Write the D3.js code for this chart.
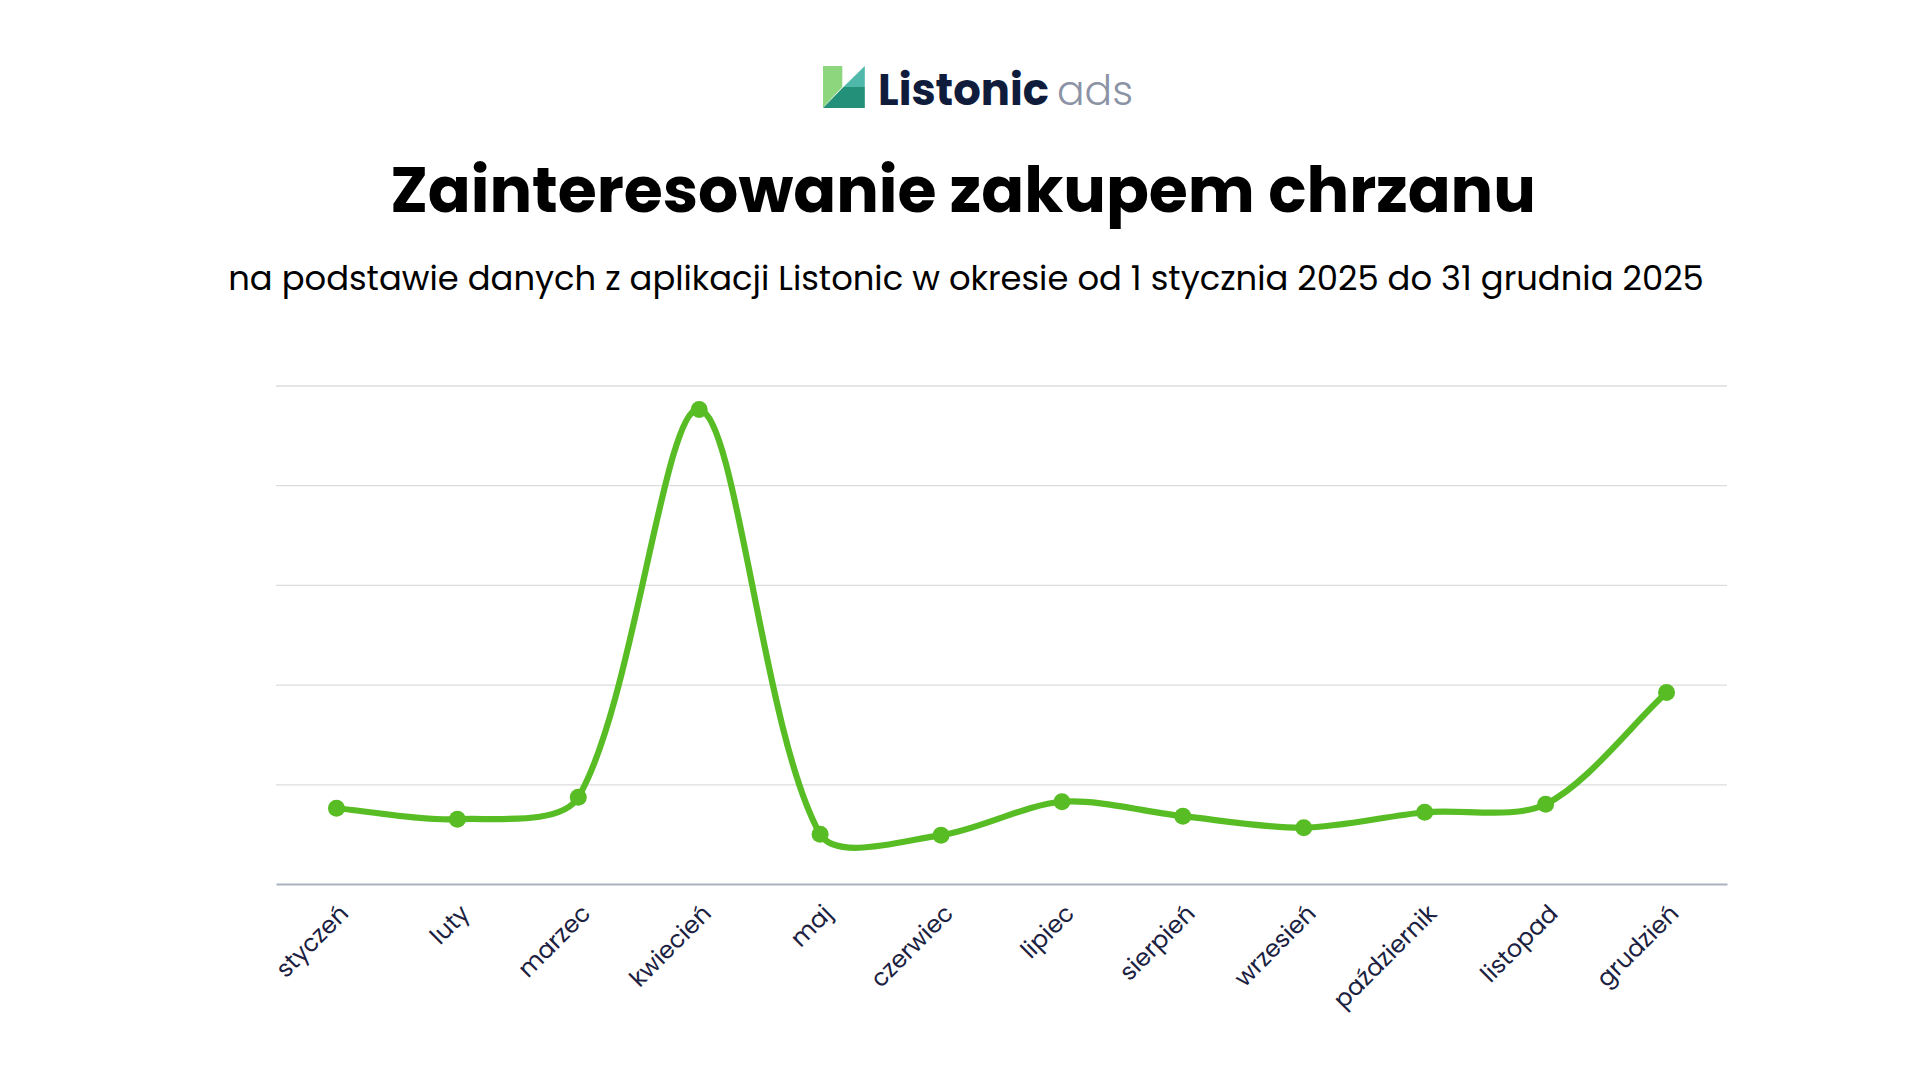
<!DOCTYPE html>
<html lang="pl">
<head>
<meta charset="utf-8">
<script src="https://cdn.jsdelivr.net/npm/d3@7/dist/d3.min.js"></script>
<style>
  html, body { margin: 0; padding: 0; background: #fff; }
  svg { display: block; }
  text { font-family: Poppins, Inter, "Noto Sans", sans-serif; }
</style>
</head>
<body>
<div id="chart"></div>
<script>
// data (index, top gridline = 100)
const months = ["styczeń", "luty", "marzec", "kwiecień", "maj", "czerwiec",
  "lipiec", "sierpień", "wrzesień", "październik", "listopad", "grudzień"];
const interest = [15.2, 13.0, 17.4, 95.2, 10.0, 9.8, 16.5, 13.6, 11.3, 14.4, 16.0, 38.4];
const gridTicks = [0, 20, 40, 60, 80, 100];

const title = "Zainteresowanie zakupem chrzanu";
const subtitle = "na podstawie danych z aplikacji Listonic w okresie od 1 stycznia 2025 do 31 grudnia 2025";

const W = 1920, H = 1080;
const plot = { left: 276, right: 1727, top: 385.5, bottom: 884 };
const green = "#58bd24";

const svg = d3.select("#chart").append("svg")
  .attr("width", W)
  .attr("height", H);

// shrink/grow font so text spans the width seen in the reference
function fitWidth(sel, target) {
  const size = parseFloat(sel.attr("font-size"));
  const w = sel.node().getComputedTextLength();
  sel.attr("font-size", (size * target / w).toFixed(2));
}

// --- logo
const logo = svg.append("g").attr("transform", "translate(823, 66)");
logo.append("polygon").attr("points", "0,0 19.3,0 19.3,21 0,41.6").attr("fill", "#8dd67e");
logo.append("polygon").attr("points", "20.4,21 41.8,0 41.8,21").attr("fill", "#4fb8ab");
logo.append("polygon").attr("points", "0,42 20.4,21 41.8,21 41.8,42").attr("fill", "#23907a");

const logoText = svg.append("text")
  .attr("x", 878).attr("y", 105)
  .attr("font-size", 43)
  .attr("font-weight", 700)
  .attr("fill", "#101c3b")
  .text("Listonic");
fitWidth(logoText, 171);

const adsText = svg.append("text")
  .attr("x", 1057).attr("y", 105)
  .attr("font-size", 43)
  .attr("font-weight", 300)
  .attr("fill", "#8b93a5")
  .text("ads");
fitWidth(adsText, 76);

// --- titles
const titleText = svg.append("text")
  .attr("x", 963).attr("y", 212)
  .attr("text-anchor", "middle")
  .attr("font-size", 66)
  .attr("font-weight", 700)
  .attr("fill", "#000")
  .text(title);
fitWidth(titleText, 1146);

const subText = svg.append("text")
  .attr("x", 966).attr("y", 290)
  .attr("text-anchor", "middle")
  .attr("font-size", 28)
  .attr("fill", "#000")
  .text(subtitle);
fitWidth(subText, 1476);

// --- scales
const x = d3.scalePoint()
  .domain(months)
  .range([plot.left, plot.right])
  .padding(0.5);

const y = d3.scaleLinear()
  .domain([0, 100])
  .range([plot.bottom, plot.top]);

// gridlines
svg.append("g")
  .attr("transform", `translate(${plot.left}, 0)`)
  .call(d3.axisLeft(y).tickValues(gridTicks.slice(1)).tickSize(-(plot.right - plot.left)).tickFormat(""))
  .call(g => g.select(".domain").remove())
  .call(g => g.selectAll(".tick line").attr("stroke", "#dcdcdc").attr("stroke-width", 1.3));

// x axis
const xAxis = svg.append("g")
  .attr("transform", `translate(0, ${plot.bottom})`)
  .call(d3.axisBottom(x).tickSize(0).tickSizeOuter(0));

xAxis.select(".domain")
  .attr("stroke", "#aab1c0")
  .attr("stroke-width", 2);

xAxis.selectAll(".tick text")
  .attr("font-family", "Poppins, Inter, 'Noto Sans', sans-serif")
  .attr("font-size", 24)
  .attr("fill", "#1b2140")
  .attr("text-anchor", "end")
  .attr("dy", 0)
  .attr("y", 0)
  .attr("transform", "translate(13, 31) rotate(-45)");

// spline: bezier with distance-weighted control points
function curveTension(context) {
  const t = 0.3;
  let pts;
  return {
    areaStart() {}, areaEnd() {},
    lineStart() { pts = []; },
    point(px, py) { pts.push([px, py]); },
    lineEnd() {
      const n = pts.length;
      if (!n) return;
      const cps = pts.map((p, i) => {
        const a = pts[i - 1] || p, c = pts[i + 1] || p;
        const d01 = Math.hypot(p[0] - a[0], p[1] - a[1]);
        const d12 = Math.hypot(c[0] - p[0], c[1] - p[1]);
        const s01 = d01 / (d01 + d12) || 0, s12 = d12 / (d01 + d12) || 0;
        const fa = t * s01, fb = t * s12;
        return {
          prev: [p[0] - fa * (c[0] - a[0]), p[1] - fa * (c[1] - a[1])],
          next: [p[0] + fb * (c[0] - a[0]), p[1] + fb * (c[1] - a[1])]
        };
      });
      context.moveTo(pts[0][0], pts[0][1]);
      for (let i = 1; i < n; i++) {
        context.bezierCurveTo(cps[i - 1].next[0], cps[i - 1].next[1],
          cps[i].prev[0], cps[i].prev[1], pts[i][0], pts[i][1]);
      }
    }
  };
}

const series = months.map((m, i) => ({ month: m, value: interest[i] }));

const line = d3.line()
  .x(d => x(d.month))
  .y(d => y(d.value))
  .curve(curveTension);

svg.append("path")
  .datum(series)
  .attr("fill", "none")
  .attr("stroke", green)
  .attr("stroke-width", 6.2)
  .attr("stroke-linejoin", "round")
  .attr("d", line);

svg.selectAll("circle.pt")
  .data(series)
  .enter().append("circle")
  .attr("class", "pt")
  .attr("cx", d => x(d.month))
  .attr("cy", d => y(d.value))
  .attr("r", 8.5)
  .attr("fill", green);
</script>
</body>
</html>
